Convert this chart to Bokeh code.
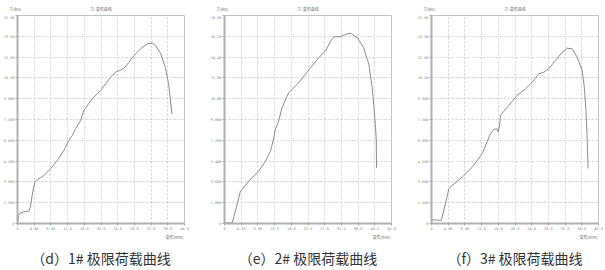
from bokeh.plotting import figure
from bokeh.layouts import row, column
from bokeh.models import Range1d, FixedTicker, Label
from bokeh.embed import file_html
from bokeh.resources import INLINE

# ---- data ----
d_x = [0, 0.25, 0.6, 1.2, 2.0, 2.7, 3.1, 3.6, 4.15, 4.87, 6.3, 7.9, 9.5, 11.1, 12.3, 13.1, 13.9, 15.1,
       15.9, 17.9, 19.9, 21.1, 22.3, 23.5, 24.4, 25.5, 26.7, 27.9, 29.5, 31.1, 32.3, 33.1, 34.3, 35.4,
       36.2, 37.0]
d_y = [0, 0.58, 0.75, 0.82, 0.87, 0.89, 1.2, 2.2, 2.98, 3.17, 3.46, 3.94, 4.54, 5.26, 5.98, 6.34, 6.83, 7.43,
       8.15, 9.0, 9.59, 10.07, 10.55, 10.91, 11.03, 11.2, 11.63, 12.11, 12.6, 12.96, 13.0, 12.84, 12.24, 11.27,
       10.07, 7.9]

e_x = [0, 0.5, 2.07, 3.2, 4.3, 4.77, 6.55, 9.24, 11.05, 12.4, 13.3, 13.7, 14.6, 15.5, 17.3, 19.6, 21.4,
       23.2, 25.4, 27.2, 28.6, 29.5, 31.3, 32.6, 33.95, 35.8, 37.5, 38.9, 39.8, 40.3, 40.7, 40.9, 40.96]
e_y = [0, 0.05, 0.05, 1.4, 2.81, 2.96, 3.68, 4.54, 5.41, 6.27, 7.42, 8.15, 8.87, 10.02, 11.32, 12.04, 12.76,
       13.48, 14.35, 14.92, 15.79, 16.16, 16.16, 16.37, 16.46, 16.08, 15.21, 13.77, 11.75, 10.0, 8.29, 7.14, 4.83]

f_x = [0, 0.1, 0.6, 1.5, 2.33, 3.35, 4.15, 4.95, 7.35, 9.75, 12.15, 14.1, 14.9, 15.7, 16.0, 16.4, 16.5,
       18.5, 20.5, 22.5, 24.1, 25.7, 26.9, 28.1, 29.7, 31.3, 32.5, 33.7, 34.9, 36.1, 36.6, 37.0, 37.3, 37.5]
f_y = [0, 0.26, 0.26, 0.24, 0.22, 1.42, 2.5, 2.74, 3.34, 4.06, 5.03, 6.47, 6.78, 6.83, 6.59, 7.31, 7.79,
       8.51, 9.23, 9.71, 10.19, 10.8, 10.91, 11.16, 11.76, 12.35, 12.64, 12.6, 11.99, 11.03, 9.83, 8.15, 5.99, 3.97]

x_ticks_40 = [0, 4, 8, 12, 16, 20, 24, 28, 32, 36, 40]
x_labels_40 = ["0", "4.00", "8.00", "12.0", "16.0", "20.0", "24.0", "28.0", "32.0", "36.0", "40.0"]
x_ticks_45 = [0, 4.5, 9, 13.5, 18, 22.5, 27, 31.5, 36, 40.5, 45]
x_labels_45 = ["0", "4.50", "9.00", "13.5", "18.0", "22.5", "27.0", "31.5", "36.0", "40.5", "45.0"]
y_ticks_15 = [0, 1.5, 3, 4.5, 6, 7.5, 9, 10.5, 12, 13.5, 15]
y_labels_15 = ["0", "1.500", "3.000", "4.500", "6.000", "7.500", "9.000", "10.50", "12.00", "13.50", "15.00"]
y_ticks_18 = [0, 1.8, 3.6, 5.4, 7.2, 9, 10.8, 12.6, 14.4, 16.2, 18]
y_labels_18 = ["0", "1.800", "3.600", "5.400", "7.200", "9.000", "10.80", "12.60", "14.40", "16.20", "18.00"]

chart_title = "力-变形曲线"
y_name = "力(kN)"
x_name = "变形(mm)"
captions = ["（d）1# 极限荷载曲线", "（e）2# 极限荷载曲线", "（f）3# 极限荷载曲线"]

# ---- layout / style ----
W, H = 605, 270
FRAME_W, FRAME_H = 167, 208
LEFT_B = 17
RIGHT_B = [23, 23, 7]
TOP_H = 15
MAIN_BOTTOM_B = 10
BOTTOM_H = H - TOP_H - FRAME_H - MAIN_BOTTOM_B

GRAY_TXT = "#8a8a8a"
TICK_FONT = "3.6px"
SMALL_FONT = "4px"
CJK = "Noto Sans CJK SC"


def panel(xs, ys, xmax, ymax, xt, xl, yt, yl, right_border):
    p = figure(frame_width=FRAME_W, frame_height=FRAME_H, output_backend="svg", toolbar_location=None,
               x_range=Range1d(0, xmax), y_range=Range1d(0, ymax),
               min_border_left=LEFT_B, min_border_right=right_border, min_border_top=0,
               min_border_bottom=MAIN_BOTTOM_B)
    p.background_fill_color = "white"
    p.border_fill_color = "white"
    p.outline_line_color = "#c4c4c4"
    p.outline_line_width = 1
    p.xaxis.ticker = FixedTicker(ticks=xt)
    p.yaxis.ticker = FixedTicker(ticks=yt)
    p.xaxis.major_label_overrides = {t: l for t, l in zip(xt, xl)}
    p.yaxis.major_label_overrides = {t: l for t, l in zip(yt, yl)}
    for ax in (p.xaxis, p.yaxis):
        ax.major_label_text_font_size = TICK_FONT
        ax.major_label_text_color = GRAY_TXT
        ax.major_label_text_font = "DejaVu Sans Mono"
        ax.axis_line_color = "#b0b0b0"
        ax.axis_line_width = 2
        ax.major_tick_line_color = "#a8a8a8"
        ax.major_tick_out = 2
        ax.major_tick_in = 0
        ax.minor_tick_line_color = None
        ax.major_label_standoff = 1
    p.xgrid.ticker = FixedTicker(ticks=xt)
    p.ygrid.ticker = FixedTicker(ticks=yt)
    p.grid.grid_line_color = "#cfcfcf"
    p.grid.grid_line_dash = "2 2"
    p.grid.grid_line_width = 1

    p.line(xs, ys, line_color="#8c8c8c", line_width=1)
    return p


def strip(height):
    s = figure(width=W, height=height, output_backend="svg", toolbar_location=None,
               x_range=Range1d(0, W), y_range=Range1d(height, 0),
               x_axis_location=None, y_axis_location=None,
               min_border=0, min_border_left=0, min_border_right=0,
               min_border_top=0, min_border_bottom=0)
    s.outline_line_color = None
    s.grid.visible = False
    s.background_fill_color = "white"
    s.border_fill_color = "white"
    return s


p1 = panel(d_x, d_y, 40, 15, x_ticks_40, x_labels_40, y_ticks_15, y_labels_15, RIGHT_B[0])
p2 = panel(e_x, e_y, 45, 18, x_ticks_45, x_labels_45, y_ticks_18, y_labels_18, RIGHT_B[1])
p3 = panel(f_x, f_y, 40, 15, x_ticks_40, x_labels_40, y_ticks_15, y_labels_15, RIGHT_B[2])

top = strip(TOP_H)
bottom = strip(BOTTOM_H)

x0 = 0
for i in range(3):
    fl = x0 + LEFT_B
    fr = fl + FRAME_W
    fc = (fl + fr) / 2
    top.add_layout(Label(x=fc, y=8, text=chart_title, text_align="center", text_baseline="middle",
                         text_font_size=SMALL_FONT, text_color="#6f6f6f", text_font=CJK))
    top.add_layout(Label(x=fl - 8, y=8, text=y_name, text_align="left", text_baseline="middle",
                         text_font_size=SMALL_FONT, text_color="#6f6f6f", text_font=CJK))
    bottom.add_layout(Label(x=fr - 1, y=3, text=x_name, text_align="right", text_baseline="middle",
                            text_font_size=SMALL_FONT, text_color="#6f6f6f", text_font=CJK))
    bottom.add_layout(Label(x=fc, y=24, text=captions[i], text_align="center", text_baseline="middle",
                            text_font_size="14px", text_color="#333333", text_font=CJK))
    x0 = fr + RIGHT_B[i]

layout = column(top, row(p1, p2, p3), bottom)
open("out.html", "w").write(file_html(layout, INLINE))
